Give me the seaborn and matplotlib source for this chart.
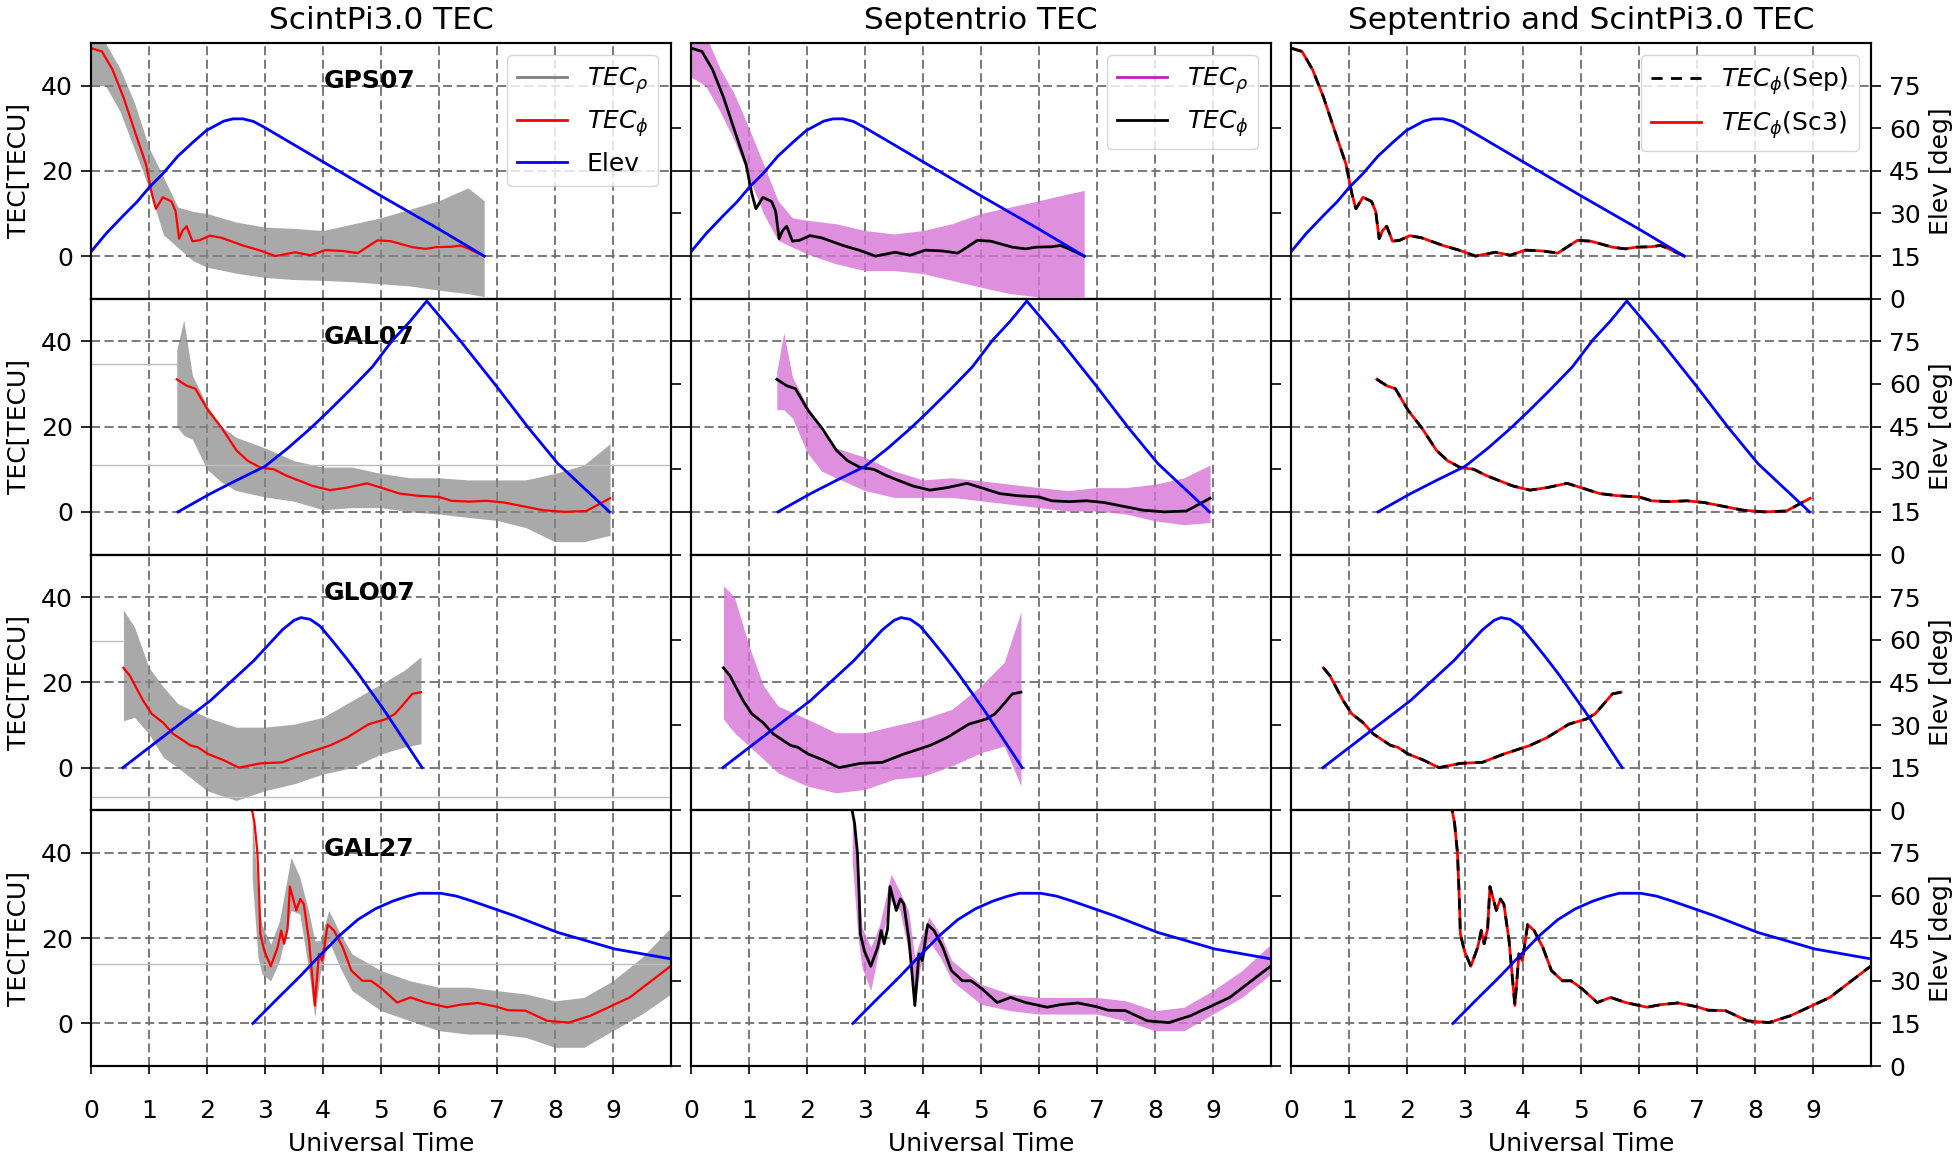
import matplotlib
matplotlib.use("Agg")
import matplotlib.pyplot as plt
from matplotlib.lines import Line2D
import seaborn as sns

# column titles / satellites
col_titles = ["ScintPi3.0 TEC", "Septentrio TEC", "Septentrio and ScintPi3.0 TEC"]
sat_names = ["GPS07", "GAL07", "GLO07", "GAL27"]
x_ticks = list(range(10))
tec_ticks = [0, 20, 40]
elev_ticks = [0, 15, 30, 45, 60, 75]

# ---- GPS07 ----
gps07_phi_t = [0, 0.19, 0.37, 0.56, 0.8, 0.95, 1.05, 1.12, 1.24, 1.39, 1.46, 1.52, 1.58, 1.65,
               1.75, 1.87, 2.05, 2.25, 2.62, 2.92, 3.18, 3.52, 3.78, 4.04, 4.34, 4.6, 4.94,
               5.17, 5.54, 5.77, 5.95, 6.22, 6.37, 6.5, 6.78]
gps07_phi = [48.8, 48.0, 43.8, 37.3, 27.5, 21.5, 14.6, 11.1, 13.8, 12.8, 10.5, 4.1, 6.0, 7.0,
             3.5, 3.7, 4.8, 4.3, 2.5, 1.3, 0.0, 0.9, 0.2, 1.4, 1.2, 0.7, 3.7,
             3.5, 2.1, 1.7, 2.1, 2.2, 2.5, 1.8, 0.0]
gps07_el_t = [0, 0.26, 0.56, 0.79, 1.01, 1.24, 1.5, 1.76, 1.99, 2.29, 2.45, 2.62, 2.8, 3.0,
              3.5, 4.0, 5.0, 6.0, 6.78]
gps07_el = [16.5, 22.9, 29.3, 34.0, 39.3, 44.0, 50.2, 55.1, 59.2, 62.5, 63.3, 63.3, 62.4, 60.2,
            54.2, 48.2, 36.2, 24.5, 15.0]
gps07_env_t = [0, 0.25, 0.5, 0.75, 1.0, 1.25, 1.5, 1.75, 2.0, 2.5, 3.0, 3.5, 4.0, 4.5, 5.0,
               5.5, 6.0, 6.5, 6.78]
gps07_sc3_lo = [40, 40, 34, 25, 16, 5, 2, -1, -2.6, -4, -5, -5.5, -5.7, -6, -6.5, -7, -8, -8.8, -9.5]
gps07_sc3_hi = [53, 50, 44, 36, 25.5, 18.5, 11.5, 10.5, 10, 8, 6.8, 6.5, 6, 7.5, 9, 11, 13, 16, 13]
gps07_sep_lo = [42, 40, 34, 27, 18.5, 10, 3.7, 2.1, 0.5, -1.8, -3.4, -3.4, -4.1, -5.7, -7.3,
                -8.8, -9.6, -9.6, -9.6]
gps07_sep_hi = [55, 52, 44, 38, 30, 21.6, 13, 9, 8.4, 7.6, 6, 5.2, 6, 7.6, 10, 11.5, 13, 14.6, 15.4]

# ---- GAL07 ----
gal07_phi_t = [1.48, 1.65, 1.8, 2.02, 2.25, 2.51, 2.7, 2.92, 3.15, 3.37, 3.82, 4.12, 4.42, 4.76,
               5.02, 5.32, 5.62, 6.0, 6.22, 6.52, 6.82, 7.12, 7.42, 7.79, 8.16, 8.54, 8.76, 8.95]
gal07_phi = [31.1, 29.6, 28.9, 23.8, 19.8, 14.4, 12.0, 10.4, 10.0, 8.5, 6.1, 5.1, 5.7, 6.7,
             5.6, 4.3, 3.8, 3.5, 2.6, 2.4, 2.6, 2.2, 1.4, 0.4, 0.0, 0.2, 1.8, 3.2]
gal07_el_t = [1.5, 2.06, 2.5, 3.0, 3.4, 3.78, 4.1, 4.46, 4.85, 5.2, 5.5, 5.79, 6.36, 7.0, 7.53,
              8.05, 8.94]
gal07_el = [15, 21.4, 26.0, 31, 37.5, 44.3, 50.5, 57.8, 66.0, 75.4, 82.0, 89.2, 75.4, 59, 44.9,
            32, 15]
gal07_env_t = [1.48, 1.6, 1.75, 2.0, 2.25, 2.5, 3.0, 3.5, 4.0, 4.5, 5.0, 5.5, 6.0, 6.5, 7.0,
               7.5, 8.0, 8.5, 8.95]
gal07_sc3_lo = [20, 18, 17, 10, 7, 5, 3.5, 2.5, 0.5, 1, 1, 0, -0.5, -1.3, -2, -3.7, -7, -7, -5.5]
gal07_sc3_hi = [38, 45, 32, 25, 20, 17.5, 15, 12, 10.5, 10.5, 9, 8, 8, 7.5, 7.5, 7.5, 9, 11, 16]
gal07_sep_lo = [24, 24, 22, 14, 9.6, 8, 5, 3.4, 3.4, 3.4, 2.6, 1.8, 1, 0.2, 0.2, -0.5, -2.1, -3, -2.5]
gal07_sep_hi = [33, 42, 31.6, 25, 19, 15, 12.8, 9.6, 7.5, 8, 7.3, 6.5, 5.7, 5, 5.7, 5.7, 6.5, 8, 11]

# ---- GLO07 ----
glo07_phi_t = [0.56, 0.67, 0.9, 1.05, 1.24, 1.42, 1.72, 1.84, 2.02, 2.28, 2.55, 2.92, 3.3, 3.67,
               4.12, 4.42, 4.79, 5.09, 5.24, 5.39, 5.54, 5.69]
glo07_phi = [23.4, 21.6, 15.7, 12.6, 10.6, 7.9, 5.2, 4.8, 3.2, 1.8, 0.0, 1.0, 1.25, 3.2,
             5.2, 7.1, 10.2, 11.4, 12.6, 14.9, 17.3, 17.7]
glo07_el_t = [0.55, 1.31, 2.06, 2.81, 3.05, 3.3, 3.5, 3.62, 3.78, 3.95, 4.16, 4.4, 4.61, 5.06,
              5.71]
glo07_el = [15, 26.9, 38.6, 52.7, 58.0, 63.5, 66.8, 67.8, 67.2, 64.8, 59.7, 53.6, 48, 35.1, 15]
glo07_env_t = [0.56, 0.75, 1.0, 1.25, 1.5, 2.0, 2.5, 3.0, 3.5, 4.0, 4.5, 5.0, 5.4, 5.69]
glo07_sc3_lo = [11, 11.8, 7.9, 2.4, 0, -5.4, -7.7, -5.4, -3.8, -1.5, 0, 3.2, 4.8, 5.6]
glo07_sc3_hi = [37, 33, 23.5, 18.9, 15, 11.8, 9.5, 9.5, 10.2, 11.8, 15.7, 19.6, 22.8, 26]
glo07_sep_lo = [11.4, 8.2, 5.1, 2, -1.2, -4.3, -5.9, -5.1, -2.7, -2, 0.4, 3.5, 5.1, -4.3]
glo07_sep_hi = [42.7, 40, 28.6, 19.2, 14.5, 11.4, 8.2, 8.2, 9.8, 11.4, 13.7, 19.2, 24.7, 36.5]

# ---- GAL27 ----
gal27_phi_t = [2.75, 2.82, 2.87, 2.9, 2.92, 2.99, 3.1, 3.22, 3.28, 3.33, 3.39, 3.43, 3.54, 3.61,
               3.67, 3.76, 3.86, 3.93, 3.99, 4.08, 4.19, 4.34, 4.49, 4.68, 4.83, 5.02, 5.28,
               5.51, 5.77, 6.14, 6.37, 6.67, 7.0, 7.19, 7.49, 7.87, 8.24, 8.61, 8.99, 9.29, 10.0]
gal27_phi = [52, 47, 40, 30, 21, 17, 13.4, 17.9, 21.8, 18.7, 22.2, 32.1, 26.5, 29.2,
             28, 19.4, 4.2, 16.3, 14.7, 23.2, 21.8, 17.9, 12.4, 10, 10, 8.1, 4.9,
             6.1, 4.9, 3.8, 4.4, 4.8, 3.9, 3.1, 3.0, 0.6, 0.2, 1.8, 4.2, 6.1, 13.5]
gal27_el_t = [2.79, 3.18, 3.6, 4.0, 4.3, 4.6, 4.9, 5.2, 5.45, 5.66, 6.03, 6.3, 6.55, 7.3, 8.05,
              9.03, 10.0]
gal27_el = [15, 23, 31.5, 40, 46.2, 51.5, 55.3, 58.0, 59.7, 60.8, 60.8, 59.8, 58.2, 52.9, 47,
            41.2, 37.7]
gal27_env_t = [2.78, 2.88, 2.95, 3.1, 3.25, 3.45, 3.6, 3.75, 3.86, 3.95, 4.1, 4.3, 4.5, 5.0,
               5.5, 6.0, 6.5, 7.0, 7.5, 8.0, 8.5, 9.0, 9.5, 10.0]
gal27_sc3_lo = [34, 15.5, 11.6, 10, 14.7, 26.5, 25.7, 13, 1.4, 11.6, 19.4, 13, 7.7, 3, 0.6,
                -1.7, -2.5, -2.5, -3.3, -5.6, -5.6, -1.7, 2.2, 6.9]
gal27_sc3_hi = [50, 30, 23, 18.6, 24, 39, 34.3, 26.5, 19.4, 19.4, 26.5, 21, 16.3, 12.4, 10,
                8.5, 8.5, 7.7, 6.9, 5.3, 6.1, 10, 15.5, 22.5]
gal27_sep_lo = [38, 20, 13, 7.7, 17.9, 28.8, 26.5, 17, 3.8, 13, 19.4, 15.5, 10, 4.5, 3,
                2.2, 2.2, 2.2, 0.6, -1.7, -1.7, 2.2, 6.1, 11.6]
gal27_sep_hi = [50, 35, 22.5, 17.9, 23, 35, 31, 26.5, 15.5, 19.4, 25, 21, 14.7, 9.2, 6.9,
                6.1, 6.1, 6.1, 5.3, 3, 3.8, 7.7, 12.4, 18.6]

# faint leftover horizontal traces in the ScintPi panels: row, x0, x1, level
trace_row = [1, 1, 2, 2, 3]
trace_x0 = [0, 0, 0, 0, 0]
trace_x1 = [1.48, 10, 0.56, 10, 10]
trace_y = [34.8, 11.0, 29.6, -6.8, 13.9]

rows = [
    (gps07_phi_t, gps07_phi, gps07_el_t, gps07_el, gps07_env_t,
     gps07_sc3_lo, gps07_sc3_hi, gps07_sep_lo, gps07_sep_hi),
    (gal07_phi_t, gal07_phi, gal07_el_t, gal07_el, gal07_env_t,
     gal07_sc3_lo, gal07_sc3_hi, gal07_sep_lo, gal07_sep_hi),
    (glo07_phi_t, glo07_phi, glo07_el_t, glo07_el, glo07_env_t,
     glo07_sc3_lo, glo07_sc3_hi, glo07_sep_lo, glo07_sep_hi),
    (gal27_phi_t, gal27_phi, gal27_el_t, gal27_el, gal27_env_t,
     gal27_sc3_lo, gal27_sc3_hi, gal27_sep_lo, gal27_sep_hi),
]

GRAY_NOISE = "#858585"
MAG_NOISE = "#d674d6"
FS = 18

fig, axes = plt.subplots(4, 3, figsize=(19.6, 11.58), dpi=100, sharex=True)
fig.subplots_adjust(left=0.0464, right=0.9546, top=0.9629, bottom=0.0794,
                    wspace=0.0345, hspace=0)

for r, (pt, pv, et, ev, nt, sc_lo, sc_hi, sp_lo, sp_hi) in enumerate(rows):
    for c in range(3):
        ax = axes[r, c]
        ax2 = ax.twinx()
        ax.set_axisbelow(True)
        ax.grid(True, ls=(0, (5, 2.5)), color="#6e6e6e", lw=1.3)

        if c == 0:
            for k in range(len(trace_row)):
                if trace_row[k] == r:
                    ax.hlines(trace_y[k], trace_x0[k], trace_x1[k], color="#bdbdbd", lw=1)
            ax.fill_between(nt, sc_lo, sc_hi, color=GRAY_NOISE, alpha=0.7, lw=0)
            sns.lineplot(x=pt, y=pv, ax=ax, color="red", lw=1.6, sort=False, estimator=None)
            ax.text(4.8, 41, sat_names[r], fontsize=FS, fontweight="bold",
                    ha="center", va="center")
        elif c == 1:
            ax.fill_between(nt, sp_lo, sp_hi, color=MAG_NOISE, alpha=0.8, lw=0)
            sns.lineplot(x=pt, y=pv, ax=ax, color="black", lw=2, sort=False, estimator=None)
        else:
            sns.lineplot(x=pt, y=pv, ax=ax, color="red", lw=2, sort=False, estimator=None)
            sns.lineplot(x=pt, y=pv, ax=ax, color="black", lw=2, ls=(0, (4, 3)),
                         sort=False, estimator=None)

        sns.lineplot(x=et, y=ev, ax=ax2, color="blue", lw=2, sort=False, estimator=None)

        ax.set_xlim(0, 10)
        ax.set_xticks(x_ticks)
        ax.set_ylim(-10, 50)
        ax.set_yticks(tec_ticks)
        ax2.set_ylim(0, 90)
        ax2.set_yticks(elev_ticks)
        ax.set_ylabel("")
        ax2.set_ylabel("")

        ax.tick_params(axis="y", length=7, width=1.2, labelsize=FS, pad=6,
                       labelleft=(c == 0))
        ax2.tick_params(axis="y", length=7, width=1.2, labelsize=FS, pad=6,
                        labelright=(c == 2))
        if r == 3:
            ax.tick_params(axis="x", length=6, width=1.2, labelsize=FS, pad=18)
            ax.set_xlabel("Universal Time", fontsize=FS, labelpad=6)
        else:
            ax.tick_params(axis="x", length=0)
            ax.set_xlabel("")
        if c == 0:
            ax.set_ylabel("TEC[TECU]", fontsize=FS, labelpad=8)
        if c == 2:
            ax2.set_ylabel("Elev [deg]", fontsize=FS, labelpad=6)
        for a in (ax, ax2):
            for s in a.spines.values():
                s.set_linewidth(1.5)

        if r == 0:
            ax.set_title(col_titles[c], fontsize=22.5, pad=10)
            if c == 0:
                handles = [Line2D([], [], color="#808080", lw=2),
                           Line2D([], [], color="red", lw=2),
                           Line2D([], [], color="blue", lw=2)]
                labels = [r"$TEC_\rho$", r"$TEC_\phi$", "Elev"]
            elif c == 1:
                handles = [Line2D([], [], color="#c020c0", lw=2),
                           Line2D([], [], color="black", lw=2)]
                labels = [r"$TEC_\rho$", r"$TEC_\phi$"]
            else:
                handles = [Line2D([], [], color="black", lw=2, ls=(0, (4, 3))),
                           Line2D([], [], color="red", lw=2)]
                labels = [r"$TEC_\phi$(Sep)", r"$TEC_\phi$(Sc3)"]
            ax2.legend(handles, labels, loc="upper right", fontsize=FS, framealpha=0.8)

fig.savefig("out.png", dpi=100)
